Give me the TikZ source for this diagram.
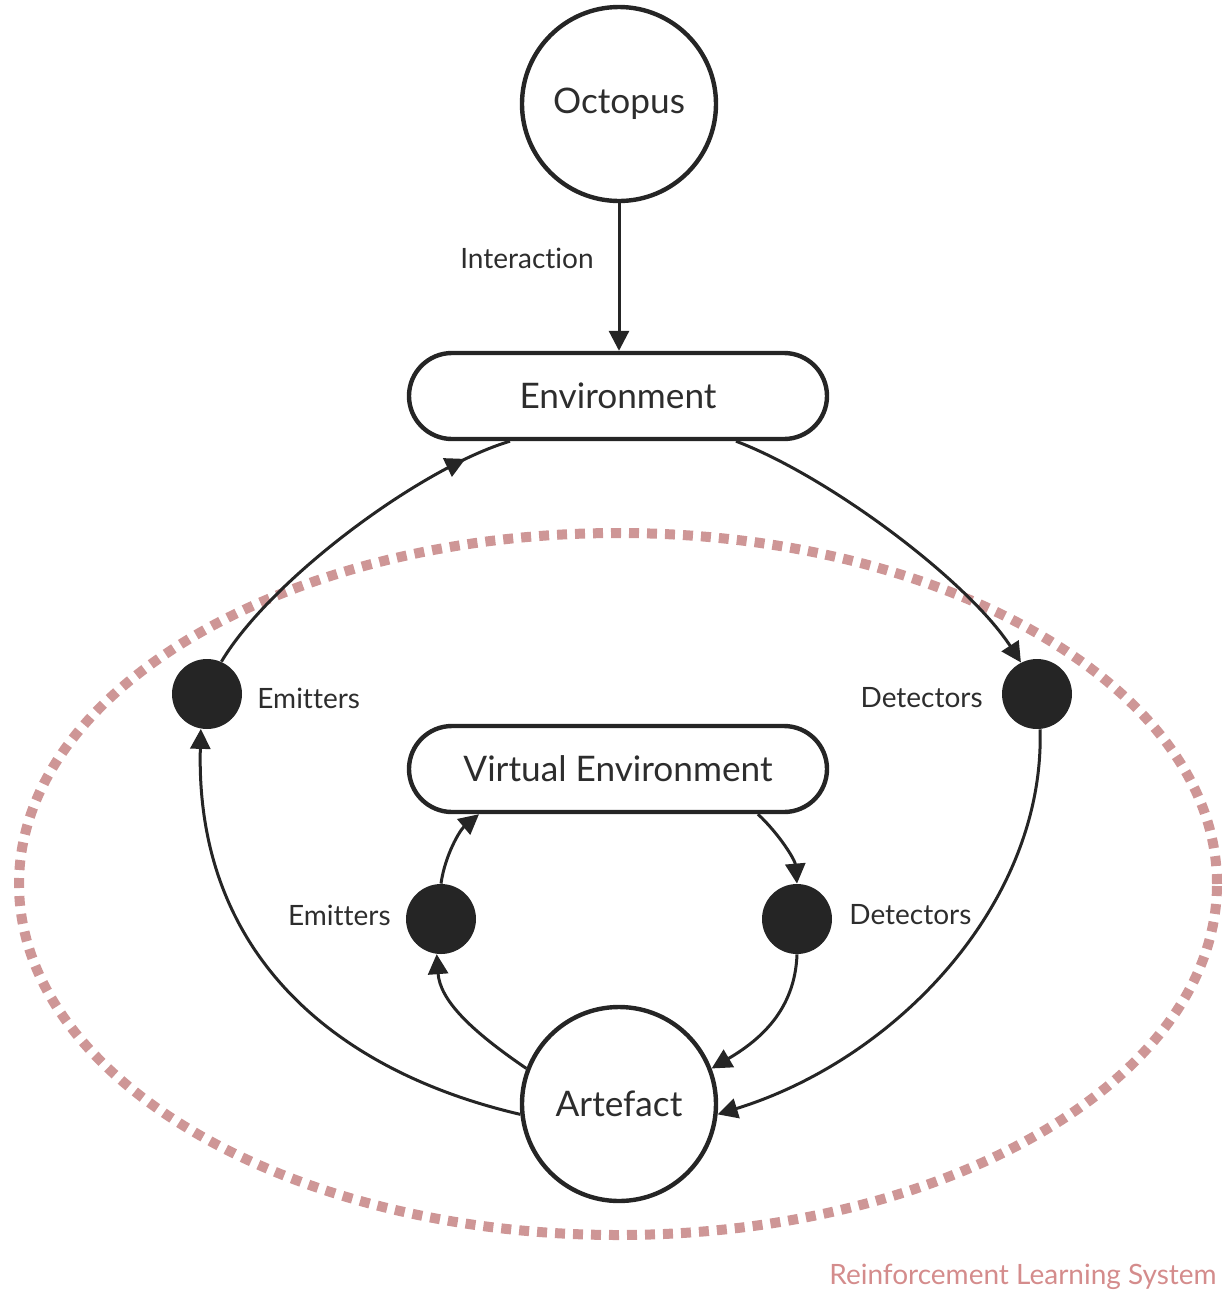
\documentclass[tikz,border=0pt]{standalone}
\usepackage{fontspec}
\setmainfont[Ligatures=NoCommon]{Lato}
\usetikzlibrary{arrows.meta,decorations.markings}
\definecolor{ink}{RGB}{37,37,37}
\definecolor{txt}{RGB}{45,45,45}
\definecolor{rls}{RGB}{206,150,150}
\definecolor{rlstext}{RGB}{212,140,140}
\begin{document}
\begin{tikzpicture}[x=0.5pt,y=-0.5pt,
  bignode/.style={circle,draw=ink,line width=2.2pt,minimum size=97pt,inner sep=0pt,font=\fontsize{17.6}{21}\selectfont,text=txt},
  envbox/.style={rounded corners=21.5pt,draw=ink,line width=2.2pt,minimum width=209pt,minimum height=43pt,inner sep=0pt,font=\fontsize{17.6}{21}\selectfont,text=txt},
  dot/.style={circle,fill=ink,minimum size=35pt,inner sep=0pt},
  lbl/.style={font=\fontsize{14}{17}\selectfont,text=txt,inner sep=0pt},
  conn/.style={draw=ink,line width=1.5pt,-{Triangle[length=10pt,width=10pt]}},
  plain/.style={draw=ink,line width=1.5pt},
  midarrow/.style={postaction={decorate},decoration={markings,mark=at position -24pt with {\arrow{Triangle[length=10pt,width=10pt]}}}},
]
\useasboundingbox (0,0) rectangle (1227,1292);
% system boundary
\draw[rls,line width=5pt,dash pattern=on 5pt off 4pt] (618,884) ellipse [x radius=299.5pt, y radius=175.5pt];
\node[anchor=east,font=\fontsize{14}{17}\selectfont,text=rlstext,inner sep=0pt] (rlsl) at (1217,1277) {Reinforcement Learning System};

% nodes
\node[bignode] (oct) at (619,104) {Octopus};
\node[envbox] (env) at (618,396) {Environment};
\node[envbox] (ve) at (618,769) {Virtual Environment};
\node[bignode] (art) at (619,1104) {Artefact};
\node[dot] (em1) at (207,694) {};
\node[dot] (det1) at (1037,694) {};
\node[dot] (em2) at (441,919) {};
\node[dot] (det2) at (797,919) {};

% labels
\node[lbl] (lint) at (527,258) {Interaction};
\node[lbl,anchor=west] (lem1) at (257,698) {Emitters};
\node[lbl,anchor=east] (ldet1) at (983,698) {Detectors};
\node[lbl,anchor=east] (lem2) at (391,915) {Emitters};
\node[lbl,anchor=west] (ldet2) at (849,915) {Detectors};

% connectors
\draw[conn] (oct.south) -- (oct.south |- env.north);
\draw[plain,midarrow] (em1.66) .. controls (270,580) and (420,468) .. ([xshift=-54pt]env.south);
\draw[conn] ([xshift=59pt]env.south) .. controls (830,477) and (968,581) .. (det1.117);
\draw[conn] (det1.-85) .. controls (1045,900) and (900,1058) .. (art.-6);
\draw[conn] (art.186) .. controls (330,1070) and (195,950) .. (em1.-100);
\draw[conn] (art.159) .. controls (470,1030) and (440,1000) .. (em2.-97);
\draw[conn] (em2.90) .. controls (445,855) and (460,830) .. ([xshift=-69.5pt]ve.south);
\draw[conn] ([xshift=70pt]ve.south) .. controls (780,835) and (795,860) .. (det2.90);
\draw[conn] (det2.-90) .. controls (795,1010) and (760,1040) .. (art.21);
\end{tikzpicture}
\end{document}
